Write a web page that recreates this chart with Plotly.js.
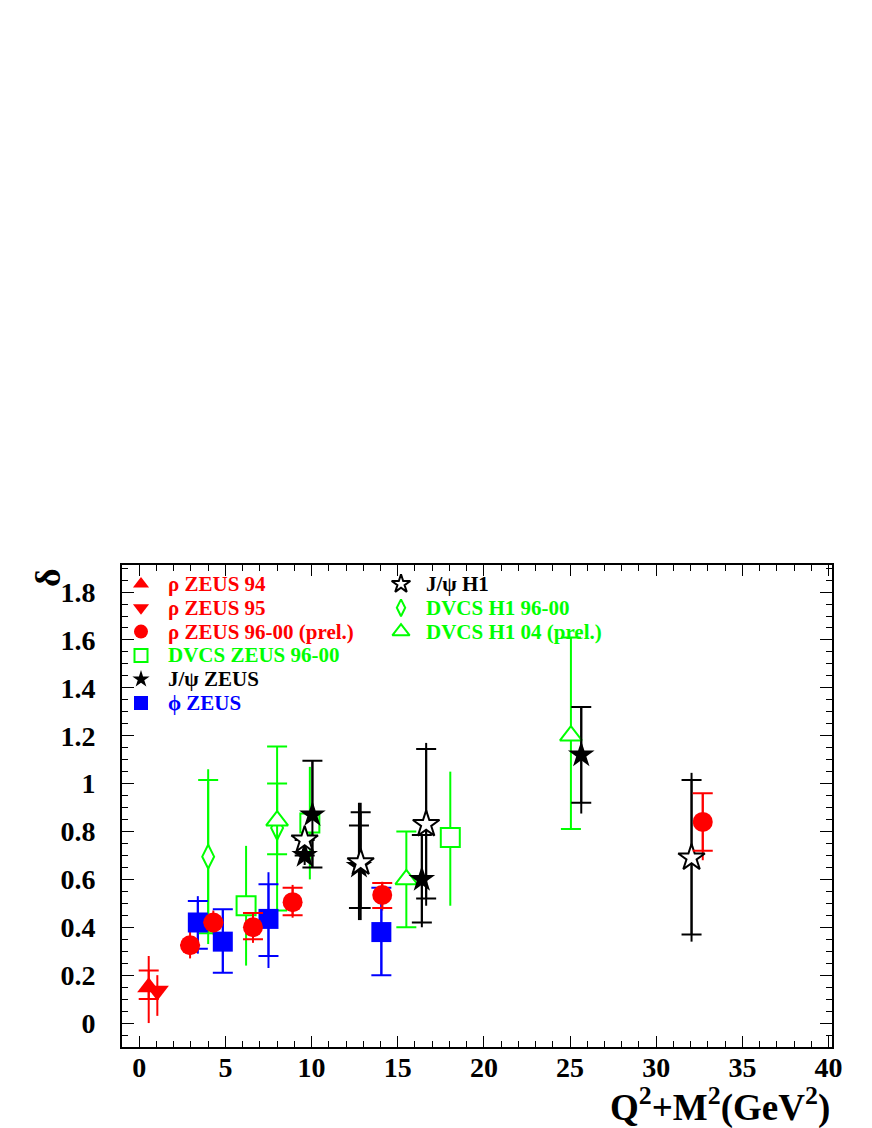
<!DOCTYPE html>
<html>
<head>
<meta charset="utf-8">
<script src="https://cdn.plot.ly/plotly-3.0.1.min.js"></script>
<style>
  body { margin: 0; background: #fff; }
  #plot { width: 872px; height: 1128px; }
</style>
</head>
<body>
<div id="plot"></div>
<script>
// rho ZEUS 94
const rho94X = [0.55];
const rho94Y = [0.15];
const rho94StatUp = [0.07];
const rho94StatDn = [0.05];
const rho94TotUp = [0.13];
const rho94TotDn = [0.15];

// rho ZEUS 95
const rho95X = [1.05];
const rho95Y = [0.135];
const rho95TotUp = [0.065];
const rho95TotDn = [0.105];

// rho ZEUS 96-00 (prel.)
const rho96X = [2.95, 4.3, 6.6, 8.9, 14.1, 32.7];
const rho96Y = [0.325, 0.42, 0.40, 0.505, 0.535, 0.84];
const rho96StatUp = [0, 0, 0.06, 0.06, 0.05, 0.12];
const rho96StatDn = [0, 0, 0.05, 0.055, 0.055, 0.12];
const rho96TotUp = [0.075, 0.05, 0.07, 0.072, 0.055, 0.12];
const rho96TotDn = [0.055, 0.05, 0.065, 0.065, 0.065, 0.16];

// phi ZEUS
const phiX = [3.4, 4.85, 7.5, 14.05];
const phiY = [0.42, 0.34, 0.435, 0.38];
const phiStatUp = [0.09, 0.135, 0.145, 0.185];
const phiStatDn = [0.11, 0.13, 0.155, 0.18];
const phiTotUp = [0.11, 0.135, 0.195, 0.185];
const phiTotDn = [0.13, 0.13, 0.205, 0.18];

// DVCS ZEUS 96-00
const dvcsZeusX = [6.2, 9.9, 18.05];
const dvcsZeusY = [0.49, 0.835, 0.775];
const dvcsZeusTotUp = [0.25, 0.235, 0.275];
const dvcsZeusTotDn = [0.25, 0.235, 0.285];

// DVCS H1 96-00
const dvcsH1X = [4.0, 8.0];
const dvcsH1Y = [0.695, 0.815];
const dvcsH1StatUp = [0.32, 0.185];
const dvcsH1StatDn = [0.32, 0.11];
const dvcsH1TotUp = [0.365, 0.185];
const dvcsH1TotDn = [0.365, 0.11];

// DVCS H1 04 (prel.)
const dvcsH104X = [8.0, 15.5, 25.05];
const dvcsH104Y = [0.845, 0.60, 1.20];
const dvcsH104StatUp = [0.31, 0.20, 0.41];
const dvcsH104StatDn = [0.375, 0.20, 0.39];

// J/psi ZEUS
const jpsiZeusX = [9.6, 10.05, 12.75, 16.4, 25.65];
const jpsiZeusY = [0.70, 0.87, 0.655, 0.60, 1.12];
const jpsiZeusStatUp = [0, 0.225, 0.17, 0.185, 0.2];
const jpsiZeusStatDn = [0, 0.22, 0.175, 0.18, 0.2];
const jpsiZeusTotUp = [0.04, 0.225, 0.265, 0.185, 0.2];
const jpsiZeusTotDn = [0.04, 0.22, 0.225, 0.20, 0.245];

// J/psi H1
const jpsiH1X = [9.6, 12.85, 16.65, 32.05];
const jpsiH1Y = [0.765, 0.67, 0.83, 0.69];
const jpsiH1StatUp = [0, 0.21, 0.315, 0.325];
const jpsiH1StatDn = [0, 0.19, 0.31, 0.32];
const jpsiH1TotUp = [0.04, 0.25, 0.34, 0.355];
const jpsiH1TotDn = [0.04, 0.24, 0.34, 0.35];

const xTickVals = [0, 5, 10, 15, 20, 25, 30, 35, 40];
const yTickVals = [0, 0.2, 0.4, 0.6, 0.8, 1, 1.2, 1.4, 1.6, 1.8];

const RED = '#ff0000';
const GREEN = '#00ff00';
const BLUE = '#0000ff';
const BLACK = '#000000';
const FONT = 'Liberation Serif, Times New Roman, serif';

// plot frame in pixels, used to place the hand made legend
const frame = { left: 122, right: 832, top: 565, bottom: 1047 };

/**
 * Error bar config, asymmetric. width is the cap half-width in px
 */
function errBars (up, dn, color, width) {
  return {
    type: 'data',
    symmetric: false,
    array: up,
    arrayminus: dn,
    color,
    thickness: 2,
    width
  };
}

/**
 * Trace that only draws the total error line (no marker, no caps)
 */
function totalTrace (x, y, up, dn, color) {
  return {
    type: 'scatter',
    mode: 'markers',
    x,
    y,
    marker: { size: 1, color: 'rgba(0,0,0,0)' },
    error_y: errBars(up, dn, color, 0),
    hoverinfo: 'skip',
    showlegend: false
  };
}

/**
 * Trace with the marker and the stat error caps
 */
function markerTrace (x, y, up, dn, color, marker, capWidth) {
  const t = {
    type: 'scatter',
    mode: 'markers',
    x,
    y,
    marker,
    showlegend: false
  };
  if (up) {
    t.error_y = errBars(up, dn, color, capWidth);
  }
  return t;
}

function openMarker (symbol, size, color) {
  return { symbol, size, color: '#ffffff', line: { color, width: 2 } };
}

function fullMarker (symbol, size, color) {
  return { symbol, size, color, line: { width: 0 } };
}

const data = [
  // total errors first so that they are under every marker
  totalTrace(dvcsZeusX, dvcsZeusY, dvcsZeusTotUp, dvcsZeusTotDn, GREEN),
  totalTrace(dvcsH1X, dvcsH1Y, dvcsH1TotUp, dvcsH1TotDn, GREEN),
  totalTrace(phiX, phiY, phiTotUp, phiTotDn, BLUE),
  totalTrace(jpsiZeusX, jpsiZeusY, jpsiZeusTotUp, jpsiZeusTotDn, BLACK),
  totalTrace(jpsiH1X, jpsiH1Y, jpsiH1TotUp, jpsiH1TotDn, BLACK),
  totalTrace(rho94X, rho94Y, rho94TotUp, rho94TotDn, RED),
  totalTrace(rho95X, rho95Y, rho95TotUp, rho95TotDn, RED),
  totalTrace(rho96X, rho96Y, rho96TotUp, rho96TotDn, RED),

  markerTrace(dvcsZeusX, dvcsZeusY, null, null, GREEN, openMarker('square', 19, GREEN)),
  markerTrace(dvcsH1X, dvcsH1Y, dvcsH1StatUp, dvcsH1StatDn, GREEN, openMarker('diamond-tall', 17, GREEN), 10),
  markerTrace(dvcsH104X, dvcsH104Y, dvcsH104StatUp, dvcsH104StatDn, GREEN, openMarker('triangle-up', 19, GREEN), 10),
  markerTrace(phiX, phiY, phiStatUp, phiStatDn, BLUE, fullMarker('square', 20, BLUE), 10),
  markerTrace(jpsiZeusX, jpsiZeusY, jpsiZeusStatUp, jpsiZeusStatDn, BLACK, fullMarker('star', 20, BLACK), 10),
  markerTrace(jpsiH1X, jpsiH1Y, jpsiH1StatUp, jpsiH1StatDn, BLACK, openMarker('star', 20, BLACK), 10),
  markerTrace(rho94X, rho94Y, rho94StatUp, rho94StatDn, RED, fullMarker('triangle-up', 20, RED), 10),
  markerTrace(rho95X, rho95Y, null, null, RED, fullMarker('triangle-down', 20, RED)),
  markerTrace(rho96X, rho96Y, rho96StatUp, rho96StatDn, RED, fullMarker('circle', 20, RED), 10)
];

// legend, two columns, drawn on an overlay axis running 0..1
const legendEntries = [
  { col: 0, row: 0, label: 'ρ ZEUS 94', color: RED, marker: fullMarker('triangle-up', 14, RED) },
  { col: 0, row: 1, label: 'ρ ZEUS 95', color: RED, marker: fullMarker('triangle-down', 14, RED) },
  { col: 0, row: 2, label: 'ρ ZEUS 96-00 (prel.)', color: RED, marker: fullMarker('circle', 14, RED) },
  { col: 0, row: 3, label: 'DVCS ZEUS 96-00', color: GREEN, marker: openMarker('square', 13, GREEN) },
  { col: 0, row: 4, label: 'J/ψ ZEUS', color: BLACK, marker: fullMarker('star', 13, BLACK) },
  { col: 0, row: 5, label: 'ϕ ZEUS', color: BLUE, marker: fullMarker('square', 14, BLUE) },
  { col: 1, row: 0, label: 'J/ψ H1', color: BLACK, marker: openMarker('star', 14, BLACK) },
  { col: 1, row: 1, label: 'DVCS H1 96-00', color: GREEN, marker: openMarker('diamond-tall', 12, GREEN) },
  { col: 1, row: 2, label: 'DVCS H1 04 (prel.)', color: GREEN, marker: openMarker('triangle-up', 15, GREEN) }
];
const legendCols = [
  { markerX: 141, textX: 166 },
  { markerX: 401, textX: 424 }
];
const legendRow0 = 584;
const legendRowStep = 23.8;

const fw = frame.right - frame.left;
const fh = frame.bottom - frame.top;
const fx = (px) => (px - frame.left) / fw;
const fy = (py) => (frame.bottom - py) / fh;

const annotations = [];
legendEntries.forEach((e) => {
  const py = legendRow0 + e.row * legendRowStep;
  data.push({
    type: 'scatter',
    mode: 'markers',
    x: [fx(legendCols[e.col].markerX)],
    y: [fy(py)],
    xaxis: 'x2',
    yaxis: 'y2',
    marker: e.marker,
    hoverinfo: 'skip',
    showlegend: false
  });
  annotations.push({
    xref: 'paper',
    yref: 'paper',
    x: fx(legendCols[e.col].textX),
    y: fy(py),
    xanchor: 'left',
    yanchor: 'middle',
    showarrow: false,
    text: e.label,
    font: { family: FONT, size: 21, color: e.color, weight: 'bold' }
  });
});

// axis titles are placed by hand like in the ROOT picture
annotations.push({
  xref: 'paper',
  yref: 'paper',
  x: 1,
  y: fy(1105),
  xanchor: 'right',
  yanchor: 'middle',
  showarrow: false,
  text: 'Q<sup>2</sup>+M<sup>2</sup>(GeV<sup>2</sup>)',
  font: { family: FONT, size: 37, color: BLACK, weight: 'bold' }
});
annotations.push({
  xref: 'paper',
  yref: 'paper',
  x: fx(48),
  y: fy(578),
  xanchor: 'center',
  yanchor: 'middle',
  showarrow: false,
  textangle: -90,
  text: 'δ',
  font: { family: FONT, size: 36, color: BLACK, weight: 'bold' }
});

const tickFont = { family: FONT, size: 28, color: BLACK, weight: 'bold' };

const layout = {
  width: 872,
  height: 1128,
  margin: { l: frame.left, r: 872 - frame.right, t: frame.top, b: 1128 - frame.bottom, pad: 0 },
  paper_bgcolor: '#ffffff',
  plot_bgcolor: '#ffffff',
  showlegend: false,
  xaxis: {
    range: [-1, 40.2],
    tickvals: xTickVals,
    ticks: 'inside',
    ticklen: 11,
    tickwidth: 1,
    tickcolor: BLACK,
    mirror: 'allticks',
    showline: true,
    linewidth: 2,
    linecolor: BLACK,
    showgrid: false,
    zeroline: false,
    tickfont: tickFont,
    ticklabelstandoff: -6,
    minor: { dtick: 1, tick0: 0, ticks: 'inside', ticklen: 6, tickcolor: BLACK, showgrid: false }
  },
  yaxis: {
    range: [-0.1, 1.913],
    tickvals: yTickVals,
    ticks: 'inside',
    ticklen: 12,
    tickwidth: 1,
    tickcolor: BLACK,
    mirror: 'allticks',
    showline: true,
    linewidth: 2,
    linecolor: BLACK,
    showgrid: false,
    zeroline: false,
    tickfont: tickFont,
    ticklabelstandoff: 19,
    minor: { dtick: 0.05, tick0: 0, ticks: 'inside', ticklen: 6, tickcolor: BLACK, showgrid: false }
  },
  xaxis2: { overlaying: 'x', anchor: 'y2', range: [0, 1], visible: false, fixedrange: true },
  yaxis2: { overlaying: 'y', anchor: 'x2', range: [0, 1], visible: false, fixedrange: true },
  annotations
};

Plotly.newPlot('plot', data, layout, { displayModeBar: false, staticPlot: true });
</script>
</body>
</html>
